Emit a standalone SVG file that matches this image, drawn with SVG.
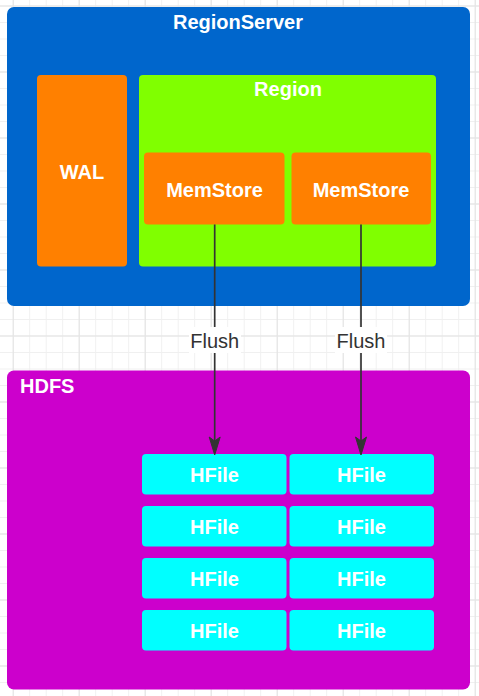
<svg xmlns="http://www.w3.org/2000/svg" width="479" height="696" viewBox="0 0 479 696">
<style>
.t{font-family:"Liberation Sans",Arial,sans-serif;font-weight:bold;font-size:20px;fill:#ffffff;text-anchor:middle}
.lbl{font-family:"Liberation Sans",Arial,sans-serif;font-size:20px;fill:#333333;text-anchor:middle}
.edge{stroke:#333333;stroke-width:1.7;fill:none}
.hf{fill:#00FFFF}
.ms{fill:#FF8000}
</style>
<defs>
<pattern id="gmin" patternUnits="userSpaceOnUse" x="12.7" y="5.5" width="16.5" height="16.5">
<path d="M16.5 0.5 L0.5 0.5 0.5 16.5" fill="none" stroke="#f0f0f0" stroke-width="1"/>
</pattern>
<pattern id="gmaj" patternUnits="userSpaceOnUse" x="12.7" y="5.5" width="66" height="66">
<path d="M66 0.5 L0.5 0.5 0.5 66" fill="none" stroke="#e2e2e2" stroke-width="1"/>
</pattern>
</defs>
<rect width="479" height="696" fill="#ffffff"/>
<rect width="479" height="696" fill="url(#gmin)"/>
<rect width="479" height="696" fill="url(#gmaj)"/>

<g id="regionserver">
<rect x="7" y="7" width="463" height="299" rx="7" fill="#0066CC"/>
<text class="t" x="238" y="29">RegionServer</text>
</g>
<g id="wal">
<rect x="37" y="75" width="90" height="191.5" rx="4" class="ms"/>
<text class="t" x="82" y="179">WAL</text>
</g>
<g id="region">
<rect x="139" y="75" width="297" height="191.5" rx="4" fill="#80FF00"/>
<text class="t" x="288" y="96">Region</text>
</g>
<g id="memstore1">
<rect x="144" y="152.5" width="140.5" height="72" rx="4" class="ms"/>
<text class="t" x="214.5" y="196.5">MemStore</text>
</g>
<g id="memstore2">
<rect x="291.5" y="152.5" width="139.5" height="72" rx="4" class="ms"/>
<text class="t" x="361" y="196.5">MemStore</text>
</g>

<g id="hdfs">
<rect x="7" y="370.5" width="463" height="319" rx="7" fill="#CC00CC"/>
<text class="t" x="20" y="392.5" style="text-anchor:start">HDFS</text>
</g>

<g id="hfile-1-1"><rect x="142" y="454" width="144.5" height="40.5" rx="4" class="hf"/><text class="t" x="214.5" y="482">HFile</text></g>
<g id="hfile-1-2"><rect x="289.5" y="454" width="144.5" height="40.5" rx="4" class="hf"/><text class="t" x="361.5" y="482">HFile</text></g>
<g id="hfile-2-1"><rect x="142" y="506" width="144.5" height="40.5" rx="4" class="hf"/><text class="t" x="214.5" y="534">HFile</text></g>
<g id="hfile-2-2"><rect x="289.5" y="506" width="144.5" height="40.5" rx="4" class="hf"/><text class="t" x="361.5" y="534">HFile</text></g>
<g id="hfile-3-1"><rect x="142" y="558" width="144.5" height="40.5" rx="4" class="hf"/><text class="t" x="214.5" y="586">HFile</text></g>
<g id="hfile-3-2"><rect x="289.5" y="558" width="144.5" height="40.5" rx="4" class="hf"/><text class="t" x="361.5" y="586">HFile</text></g>
<g id="hfile-4-1"><rect x="142" y="610" width="144.5" height="40.5" rx="4" class="hf"/><text class="t" x="214.5" y="638">HFile</text></g>
<g id="hfile-4-2"><rect x="289.5" y="610" width="144.5" height="40.5" rx="4" class="hf"/><text class="t" x="361.5" y="638">HFile</text></g>

<g id="connectors">
<path class="edge" d="M214.7 224.5 L214.7 442"/>
<polygon points="214.7,455 209.2,437 214.7,441 220.2,437" fill="#333333" stroke="#333333" stroke-width="1"/>
<rect x="189" y="327" width="52" height="26" fill="#ffffff"/>
<text class="lbl" x="214.7" y="348">Flush</text>

<path class="edge" d="M361 224.5 L361 442"/>
<polygon points="361,455 355.5,437 361,441 366.5,437" fill="#333333" stroke="#333333" stroke-width="1"/>
<rect x="335" y="327" width="52" height="26" fill="#ffffff"/>
<text class="lbl" x="361" y="348">Flush</text>
</g>
</svg>
